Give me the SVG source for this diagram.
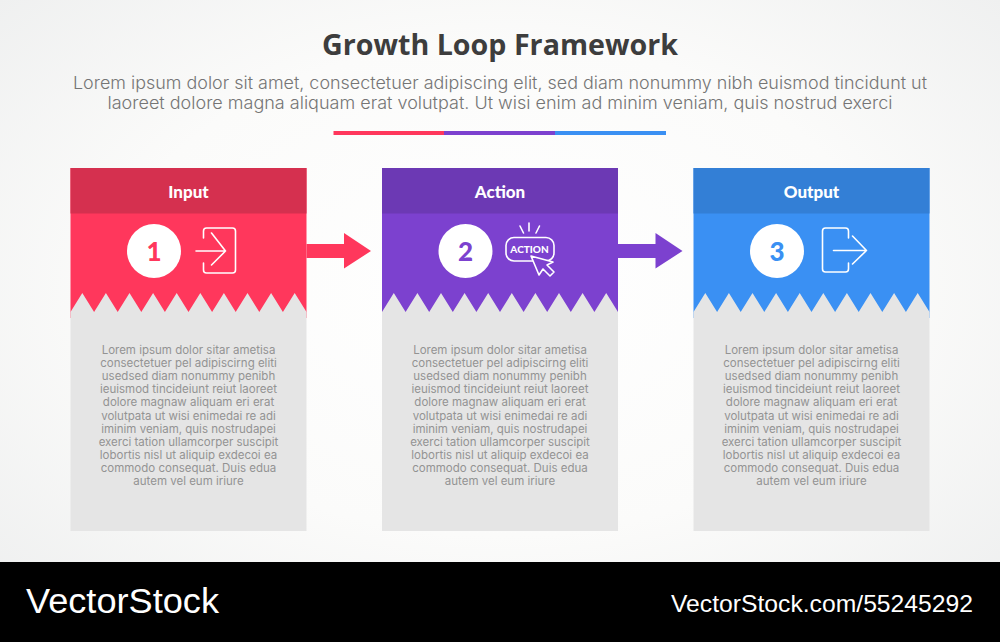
<svg xmlns="http://www.w3.org/2000/svg" width="1000" height="642" viewBox="0 0 1000 642">
<style>
.title{font:700 29px "Open Sans",sans-serif;fill:#3d3d3d;text-anchor:middle}
.sub{font:300 17px Inter,"Open Sans",sans-serif;fill:#757575;text-anchor:middle}
.head{font:900 17px Lato,sans-serif;fill:#fff;text-anchor:middle}
.num{font:900 26px Lato,sans-serif;text-anchor:middle}
.body{font:400 11.500px Inter,"Open Sans",sans-serif;fill:#939393;text-anchor:middle}
.ico{fill:none;stroke:#fff;stroke-width:1.6;stroke-linecap:round;stroke-linejoin:round}
.wm{font-family:"Liberation Sans",sans-serif;fill:#fff}
.panel{fill:#e5e5e5}
</style>
<defs>
<radialGradient id="bg" cx="50%" cy="45%" r="70%"><stop offset="0" stop-color="#ffffff"/><stop offset="0.55" stop-color="#fbfbfa"/><stop offset="1" stop-color="#eeefef"/></radialGradient>
<polygon id="torn" points="0,144 11.8,125 23.6,144 35.4,125 47.2,144 59,125 70.8,144 82.6,125 94.4,144 106.2,125 118,144 129.8,125 141.6,144 153.4,125 165.2,144 177,125 188.8,144 200.6,125 212.4,144 224.2,125 236,144 236,363 0,363"/>
</defs>
<rect width="1000" height="642" fill="url(#bg)"/>
<text class="title" x="500" y="54.500" textLength="356" lengthAdjust="spacingAndGlyphs">Growth Loop Framework</text>
<text class="sub" x="500" y="89" textLength="854" lengthAdjust="spacingAndGlyphs">Lorem ipsum dolor sit amet, consectetuer adipiscing elit, sed diam nonummy nibh euismod tincidunt ut</text>
<text class="sub" x="500" y="109" textLength="785" lengthAdjust="spacingAndGlyphs">laoreet dolore magna aliquam erat volutpat. Ut wisi enim ad minim veniam, quis nostrud exerci</text>
<g id="divider">
<rect x="333.5" y="131" width="110.5" height="4" fill="#ff375c"/>
<rect x="444" y="131" width="111" height="4" fill="#7c41cf"/>
<rect x="555" y="131" width="111" height="4" fill="#3a90f3"/>
</g>
<g id="connectors">
<polygon points="306.5,244 344,244 344,233 371,251 344,268.500 344,258 306.5,258" fill="#ff375c"/>
<polygon points="618,244 655.500,244 655.500,233 682.500,251 655.500,268.500 655.500,258 618,258" fill="#7c41cf"/>
</g>
<g id="node-input" transform="translate(70.500,168)">
<rect width="236" height="150" fill="#ff375c"/>
<rect width="236" height="45.500" fill="#d5304f"/>
<use href="#torn" class="panel"/>
<text class="head" x="118" y="29.500">Input</text>
<circle cx="83.500" cy="83" r="27" fill="#fff"/>
<text class="num" x="83.500" y="92.500" fill="#ff375c">1</text>
<path class="ico" d="M133,70V63Q133,60 136,60H162Q165,60 165,63V102Q165,105 162,105H136Q133,105 133,102V95M125.500,83H155M141,65L155,83 141,97"/>
<g>
<text class="body" x="118" y="186">Lorem ipsum dolor sitar ametisa</text>
<text class="body" x="118" y="199">consectetuer pel adipiscirng eliti</text>
<text class="body" x="118" y="212">usedsed diam nonummy penibh</text>
<text class="body" x="118" y="225">ieuismod tincideiunt reiut laoreet</text>
<text class="body" x="118" y="238">dolore magnaw aliquam eri erat</text>
<text class="body" x="118" y="251.500">volutpata ut wisi enimedai re adi</text>
<text class="body" x="118" y="264.500">iminim veniam, quis nostrudapei</text>
<text class="body" x="118" y="277.500">exerci tation ullamcorper suscipit</text>
<text class="body" x="118" y="290.500">lobortis nisl ut aliquip exdecoi ea</text>
<text class="body" x="118" y="303.500">commodo consequat. Duis edua</text>
<text class="body" x="118" y="316.500">autem vel eum iriure</text>
</g>
</g>
<g id="node-action" transform="translate(382,168)">
<rect width="236" height="150" fill="#7c41cf"/>
<rect width="236" height="45.500" fill="#6c39b4"/>
<use href="#torn" class="panel"/>
<text class="head" x="118" y="29.500">Action</text>
<circle cx="83.500" cy="83" r="27" fill="#fff"/>
<text class="num" x="83.500" y="92.500" fill="#7c41cf">2</text>
<rect class="ico" x="124" y="69.500" width="48" height="23.500" rx="8"/>
<path class="ico" d="M141.500,65L138,58M147,63V55M154,65L157.500,58"/>
<text x="147.500" y="85" text-anchor="middle" style="font:900 10px Lato,sans-serif;fill:#fff">ACTION</text>
<path d="M149,88L157,107 161,101 168,108 172,104 165,97 171,94Z" fill="#7c41cf" stroke="#fff" stroke-width="1.600" stroke-linejoin="round"/>
<g>
<text class="body" x="118" y="186">Lorem ipsum dolor sitar ametisa</text>
<text class="body" x="118" y="199">consectetuer pel adipiscirng eliti</text>
<text class="body" x="118" y="212">usedsed diam nonummy penibh</text>
<text class="body" x="118" y="225">ieuismod tincideiunt reiut laoreet</text>
<text class="body" x="118" y="238">dolore magnaw aliquam eri erat</text>
<text class="body" x="118" y="251.500">volutpata ut wisi enimedai re adi</text>
<text class="body" x="118" y="264.500">iminim veniam, quis nostrudapei</text>
<text class="body" x="118" y="277.500">exerci tation ullamcorper suscipit</text>
<text class="body" x="118" y="290.500">lobortis nisl ut aliquip exdecoi ea</text>
<text class="body" x="118" y="303.500">commodo consequat. Duis edua</text>
<text class="body" x="118" y="316.500">autem vel eum iriure</text>
</g>
</g>
<g id="node-output" transform="translate(693.500,168)">
<rect width="236" height="150" fill="#3a90f3"/>
<rect width="236" height="45.500" fill="#337fd6"/>
<use href="#torn" class="panel"/>
<text class="head" x="118" y="29.500">Output</text>
<circle cx="83.500" cy="83" r="27" fill="#fff"/>
<text class="num" x="83.500" y="92.500" fill="#3a90f3">3</text>
<path class="ico" d="M155,70V63Q155,60 152,60H132Q129,60 129,63V101Q129,104 132,104H152Q155,104 155,101V95M140,82.500H173M159,68L173,82.500 159,96"/>
<g>
<text class="body" x="118" y="186">Lorem ipsum dolor sitar ametisa</text>
<text class="body" x="118" y="199">consectetuer pel adipiscirng eliti</text>
<text class="body" x="118" y="212">usedsed diam nonummy penibh</text>
<text class="body" x="118" y="225">ieuismod tincideiunt reiut laoreet</text>
<text class="body" x="118" y="238">dolore magnaw aliquam eri erat</text>
<text class="body" x="118" y="251.500">volutpata ut wisi enimedai re adi</text>
<text class="body" x="118" y="264.500">iminim veniam, quis nostrudapei</text>
<text class="body" x="118" y="277.500">exerci tation ullamcorper suscipit</text>
<text class="body" x="118" y="290.500">lobortis nisl ut aliquip exdecoi ea</text>
<text class="body" x="118" y="303.500">commodo consequat. Duis edua</text>
<text class="body" x="118" y="316.500">autem vel eum iriure</text>
</g>
</g>
<g id="watermark">
<rect y="562" width="1000" height="80" fill="#000"/>
<text class="wm" x="26" y="613" font-size="35" textLength="193" lengthAdjust="spacingAndGlyphs">VectorStock</text>
<text class="wm" x="671" y="612" font-size="24" textLength="302" lengthAdjust="spacingAndGlyphs">VectorStock.com/55245292</text>
</g>
</svg>
